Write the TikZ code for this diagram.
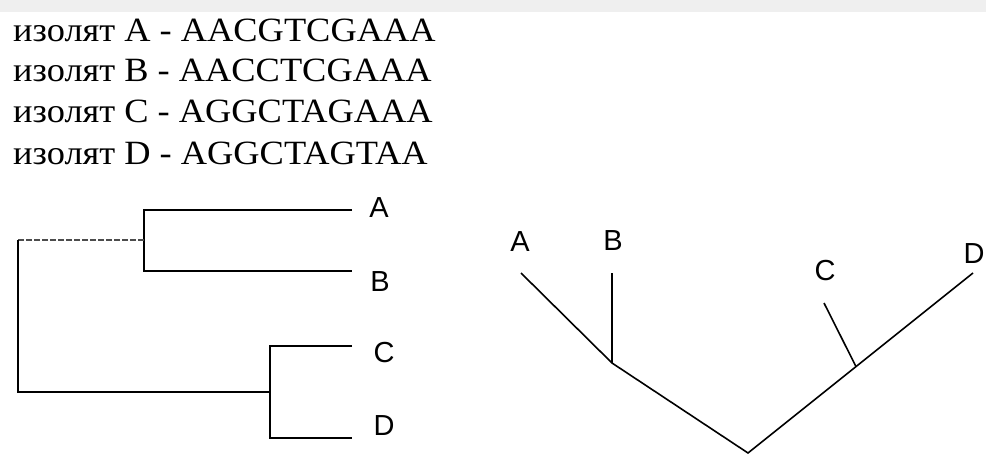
\documentclass[tikz,border=0pt]{standalone}
\usepackage{fontspec}
\setmainfont{Liberation Serif}
\newfontfamily\seqfont[FakeStretch=1.07]{Liberation Serif}
\newfontfamily\labfont{Liberation Sans}
\usetikzlibrary{calc}
\definecolor{bandgray}{RGB}{239,239,239}
\begin{document}
\begin{tikzpicture}[x=1pt,y=-1pt,
  seq/.style={anchor=base west, inner sep=0pt, font=\seqfont\fontsize{34}{40}\selectfont},
  lab/.style={inner sep=0pt, font=\labfont\fontsize{29}{30}\selectfont},
  branch/.style={line width=1.6pt, black},
  faint/.style={line width=1.2pt, black!70, dash pattern=on 6pt off 2pt}]
\useasboundingbox (0,0) rectangle (986,468);
\fill[bandgray] (0,0) rectangle (986,12);
% sequences
\node[seq] (s1) at (13,41.5) {изолят A - AACGTCGAAA};
\node[seq] (s2) at (13,82) {изолят B - AACCTCGAAA};
\node[seq] (s3) at (13,123) {изолят C - AGGCTAGAAA};
\node[seq] (s4) at (13,165) {изолят D - AGGCTAGTAA};
% left tree (dendrogram)
\coordinate (root) at (18,392);
\coordinate (rootT) at (18,240);
\coordinate (ab) at (144,240);
\coordinate (abT) at (144,210);
\coordinate (abB) at (144,271);
\coordinate (cd) at (270,392);
\coordinate (cdT) at (270,346);
\coordinate (cdB) at (270,438);
\coordinate (tA) at (352,210);
\coordinate (tB) at (352,271);
\coordinate (tC) at (352,346);
\coordinate (tD) at (352,438);
\draw[branch] (tA) -- (abT) -- (abB) -- (tB);
\draw[faint] (ab) -- (rootT);
\draw[branch] (rootT) -- (root) -- (cd);
\draw[branch] (tC) -- (cdT) -- (cdB) -- (tD);
\node[lab] (lA) at (379,207.5) {A};
\node[lab] (lB) at (380,281.5) {B};
\node[lab] (lC) at (384,353) {C};
\node[lab] (lD) at (384,426) {D};
% right tree
\coordinate (rr) at (748,453);
\coordinate (nab) at (612,363);
\coordinate (eA) at (521,273);
\coordinate (eB) at (612,273);
\coordinate (eD) at (973,273);
\coordinate (nc) at ($(rr)!0.48!(eD)$);
\coordinate (eC) at (824,303);
\draw[branch] (eA) -- (nab) -- (rr) -- (eD);
\draw[branch] (eB) -- (nab);
\draw[branch] (eC) -- (nc);
\node[lab] (rA) at (520,242) {A};
\node[lab] (rB) at (613,241) {B};
\node[lab] (rC) at (825,271) {C};
\node[lab] (rD) at (974,254) {D};
\end{tikzpicture}
\end{document}
